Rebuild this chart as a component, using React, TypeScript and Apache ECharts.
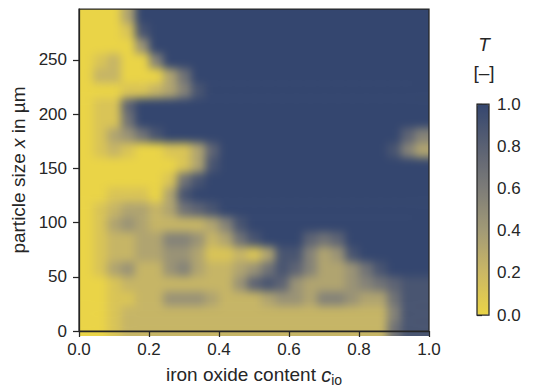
import React, { useEffect, useRef } from "react";
import * as echarts from "echarts";

// Transmission T on a regular grid: 25 columns of iron oxide content (0 → 1)
// and 22 rows of particle size, listed from the top row (≈297 µm) down to 0 µm.
// Each digit d stands for T = d / 9.
const T_ROWS = [
  "0003999999999999999999999",
  "0001899999999999999999999",
  "0000499999999999999999999",
  "0120059999999999999999999",
  "0220003699999999999999999",
  "0001123589999999999999999",
  "0117999999999999999999999",
  "0116999999999999999999999",
  "0134689999999999999999975",
  "0121001137999999999999853",
  "0000000138999999999999999",
  "0000001689999999999999999",
  "0011103899999999999999999",
  "0123323678999999999999999",
  "0134322223589999999999999",
  "0122335542368999767999999",
  "0122334431121388534899999",
  "0134224532234687533468999",
  "0012222222247874333456788",
  "0011224443222344355433688",
  "0012222222222222222222588",
  "0012222222222222222222688",
];

const X_MIN = 0;
const X_MAX = 1;
const Y_MIN = 0;
const Y_MAX = 297;
const X_INTERVAL = 0.2;
const Y_INTERVAL = 50;
const CBAR_INTERVAL = 0.2;

// yellow (T = 0) → grey → blue (T = 1)
const COLORMAP = ["#ead447", "#cbb864", "#a29a76", "#7d7c78", "#5a6173", "#34466f"];

const COLS = T_ROWS[0].length;
const ROWS = T_ROWS.length;
const DX = (X_MAX - X_MIN) / COLS;
const DY = (Y_MAX - Y_MIN) / ROWS;

// cells as [x centre, y centre, T, column, row]
const CELLS: number[][] = [];
T_ROWS.forEach((row, r) => {
  row.split("").forEach((ch, c) => {
    CELLS.push([X_MIN + (c + 0.5) * DX, Y_MAX - (r + 0.5) * DY, Number(ch) / 9, c, r]);
  });
});

const W = 533;
const H = 392;
const PLOT = { left: 79, top: 9, width: 350, height: 327 };
const INK = "#262626";
const FONT = "'Liberation Sans', Arial, sans-serif";
const TICK_SIZE = 17;
const NAME_SIZE = 19;

export default function App() {
  const fieldRef = useRef<HTMLDivElement>(null);
  const frontRef = useRef<HTMLDivElement>(null);

  useEffect(() => {
    if (!fieldRef.current || !frontRef.current) return;
    const field = echarts.init(fieldRef.current, null, { renderer: "svg" });
    const front = echarts.init(frontRef.current, null, { renderer: "svg" });

    // colour field, softened by a CSS blur on its layer
    field.setOption({
      animation: false,
      grid: { ...PLOT },
      xAxis: { type: "value", min: X_MIN, max: X_MAX, show: false },
      yAxis: { type: "value", min: Y_MIN, max: Y_MAX, show: false },
      visualMap: {
        show: false,
        type: "continuous",
        min: 0,
        max: 1,
        dimension: 2,
        inRange: { color: COLORMAP },
      },
      series: [
        {
          type: "custom",
          clip: false,
          data: CELLS,
          encode: { x: 0, y: 1 },
          renderItem: (params: any, api: any) => {
            const cx = api.value(0);
            const cy = api.value(1);
            const c = api.value(3);
            const r = api.value(4);
            const p0 = api.coord([cx - DX / 2, cy + DY / 2]);
            const p1 = api.coord([cx + DX / 2, cy - DY / 2]);
            let left = p0[0];
            let right = p1[0];
            let top = p0[1];
            let bottom = p1[1];
            // stretch border cells outwards so the blur has no pale rim
            const pad = 30;
            if (c === 0) left -= pad;
            if (c === COLS - 1) right += pad;
            if (r === 0) top -= pad;
            if (r === ROWS - 1) bottom += pad;
            return {
              type: "rect",
              shape: { x: left, y: top, width: right - left + 0.6, height: bottom - top + 0.6 },
              style: { fill: api.visual("color") },
            };
          },
        },
      ],
    });

    const axisLine = { show: true, lineStyle: { color: INK, width: 1.25 } };
    const axisTick = { show: true, inside: false, length: 6, lineStyle: { color: INK, width: 1.25 } };
    const labelStyle = { color: INK, fontSize: TICK_SIZE, fontFamily: FONT };

    front.setOption({
      animation: false,
      backgroundColor: "transparent",
      textStyle: { fontFamily: FONT },
      grid: [
        { ...PLOT, show: true, borderColor: INK, borderWidth: 1.25, backgroundColor: "transparent" },
        {
          left: 477,
          top: 104,
          width: 12,
          height: 211,
          show: true,
          borderColor: INK,
          borderWidth: 1.25,
          backgroundColor: "transparent",
          z: 10,
        },
      ],
      xAxis: [
        {
          type: "value",
          gridIndex: 0,
          min: X_MIN,
          max: X_MAX,
          interval: X_INTERVAL,
          axisLine,
          axisTick,
          splitLine: { show: false },
          axisLabel: { ...labelStyle, margin: 10, formatter: (v: number) => v.toFixed(1) },
          name: "iron oxide content {c|c}{s|io}",
          nameLocation: "middle",
          nameGap: 31,
          nameTextStyle: {
            color: INK,
            fontSize: NAME_SIZE,
            fontFamily: FONT,
            rich: {
              c: { fontSize: NAME_SIZE + 1, fontStyle: "italic", color: INK, fontFamily: FONT },
              s: { fontSize: 14, color: INK, fontFamily: FONT, verticalAlign: "top", padding: [11, 0, 0, 0] },
            },
          },
        },
        { type: "value", gridIndex: 1, min: 0, max: 1, show: false },
      ],
      yAxis: [
        {
          type: "value",
          gridIndex: 0,
          min: Y_MIN,
          max: Y_MAX,
          interval: Y_INTERVAL,
          axisLine,
          axisTick,
          splitLine: { show: false },
          axisLabel: { ...labelStyle, margin: 12, showMaxLabel: false },
          name: "particle size {i|x} in µm",
          nameLocation: "middle",
          nameGap: 42,
          nameTextStyle: {
            color: INK,
            fontSize: NAME_SIZE,
            fontFamily: FONT,
            rich: { i: { fontSize: NAME_SIZE, fontStyle: "italic", color: INK, fontFamily: FONT } },
          },
        },
        {
          type: "value",
          gridIndex: 1,
          position: "right",
          min: 0,
          max: 1,
          interval: CBAR_INTERVAL,
          axisLine: { show: false },
          axisTick: { show: true, length: 5, lineStyle: { color: INK, width: 1.25 } },
          splitLine: { show: false },
          axisLabel: { ...labelStyle, margin: 8, formatter: (v: number) => v.toFixed(1) },
        },
      ],
      visualMap: {
        type: "continuous",
        seriesIndex: [],
        min: 0,
        max: 1,
        orient: "vertical",
        left: 477,
        top: 104,
        itemWidth: 12,
        itemHeight: 211,
        padding: 0,
        calculable: false,
        hoverLink: false,
        text: ["", ""],
        inRange: { color: COLORMAP },
      },
      graphic: [
        {
          type: "text",
          x: 484,
          y: 44,
          style: {
            text: "T",
            font: `italic ${NAME_SIZE}px ${FONT}`,
            fill: INK,
            textAlign: "center",
            textVerticalAlign: "middle",
          },
        },
        {
          type: "text",
          x: 484,
          y: 72,
          style: {
            text: "[–]",
            font: `${NAME_SIZE}px ${FONT}`,
            fill: INK,
            textAlign: "center",
            textVerticalAlign: "middle",
          },
        },
      ],
      series: [],
    });

    return () => {
      field.dispose();
      front.dispose();
    };
  }, []);

  return (
    <div style={{ position: "absolute", left: 0, top: 0, width: W, height: H, background: "#fff" }}>
      <div
        style={{
          position: "absolute",
          left: PLOT.left,
          top: PLOT.top,
          width: PLOT.width,
          height: PLOT.height,
          overflow: "hidden",
        }}
      >
        <div
          ref={fieldRef}
          style={{
            position: "absolute",
            left: -PLOT.left,
            top: -PLOT.top,
            width: W,
            height: H,
            filter: "blur(4px)",
          }}
        />
      </div>
      <div ref={frontRef} style={{ position: "absolute", left: 0, top: 0, width: W, height: H }} />
    </div>
  );
}
